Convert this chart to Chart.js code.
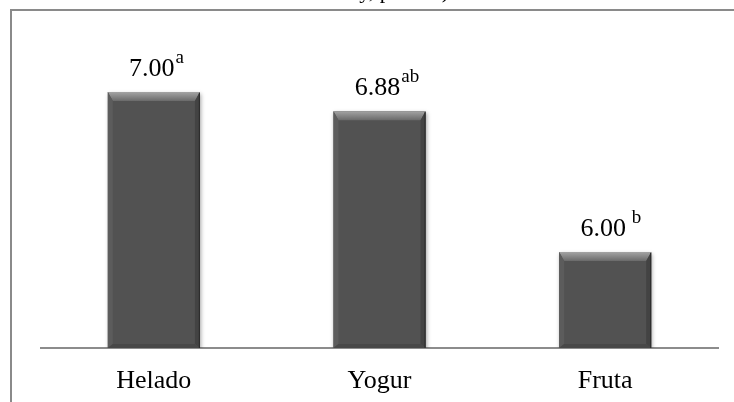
<!DOCTYPE html>
<html>
<head>
<meta charset="utf-8">
<script src="https://cdn.jsdelivr.net/npm/chart.js@4/dist/chart.umd.min.js"></script>
<style>
  html, body { margin: 0; padding: 0; background: #ffffff; }
  #wrap { width: 734px; height: 402px; position: relative; }
</style>
</head>
<body>
<div id="wrap"><canvas id="c" width="734" height="402"></canvas></div>
<script>
// Categories, mean scores and significance letters
const categories = ['Helado', 'Yogur', 'Fruta'];
const meanScores = [7.00, 6.88, 6.00];
const groupLetters = ['a', 'ab', ' b'];
const axisMin = 5.4;
const axisMax = 7.4;
const titleTail = 'y, p<0.05)';

const serif = "'Liberation Serif', 'Times New Roman', serif";

// Outer frame (left and top rules) plus the clipped end of the heading
const framePlugin = {
  id: 'frame',
  beforeDraw(chart) {
    const ctx = chart.ctx;
    ctx.save();
    ctx.fillStyle = '#ffffff';
    ctx.fillRect(0, 0, chart.width, chart.height);
    ctx.fillStyle = '#000000';
    ctx.font = '22px ' + serif;
    ctx.textAlign = 'right';
    ctx.textBaseline = 'alphabetic';
    ctx.fillText(titleTail, 449, -2);
    ctx.strokeStyle = '#8a8a8a';
    ctx.lineWidth = 2;
    ctx.beginPath();
    ctx.moveTo(11, chart.height);
    ctx.lineTo(11, 10);
    ctx.lineTo(chart.width, 10);
    ctx.stroke();
    ctx.restore();
  }
};

// Soft drop shadow under the bars
const shadowPlugin = {
  id: 'barShadow',
  beforeDatasetsDraw(chart) {
    const ctx = chart.ctx;
    ctx.save();
    ctx.shadowColor = 'rgba(0,0,0,0.35)';
    ctx.shadowBlur = 4;
    ctx.shadowOffsetX = 1;
    ctx.shadowOffsetY = 2;
  },
  afterDatasetsDraw(chart) {
    chart.ctx.restore();
  }
};

// Bevelled faces on each bar and the value labels with their letters
const bevelPlugin = {
  id: 'bevel',
  afterDatasetsDraw(chart) {
    const ctx = chart.ctx;
    const meta = chart.getDatasetMeta(0);
    meta.data.forEach((bar, i) => {
      const p = bar.getProps(['x', 'y', 'base', 'width'], true);
      const L = p.x - p.width / 2, R = p.x + p.width / 2;
      const T = p.y, B = p.base;
      const t = 9, s = 5, b = 4;
      ctx.save();
      const g = ctx.createLinearGradient(0, T, 0, T + t);
      g.addColorStop(0, '#a4a4a4');
      g.addColorStop(1, '#6a6a6a');
      ctx.fillStyle = g;
      ctx.beginPath();
      ctx.moveTo(L, T); ctx.lineTo(R, T); ctx.lineTo(R - s, T + t); ctx.lineTo(L + s, T + t);
      ctx.closePath(); ctx.fill();

      ctx.fillStyle = '#5c5c5c';
      ctx.beginPath();
      ctx.moveTo(L, T); ctx.lineTo(L + s, T + t); ctx.lineTo(L + s, B - b); ctx.lineTo(L, B);
      ctx.closePath(); ctx.fill();

      ctx.fillStyle = '#434343';
      ctx.beginPath();
      ctx.moveTo(R, T); ctx.lineTo(R - s, T + t); ctx.lineTo(R - s, B - b); ctx.lineTo(R, B);
      ctx.closePath(); ctx.fill();

      ctx.fillStyle = '#484848';
      ctx.beginPath();
      ctx.moveTo(L, B); ctx.lineTo(L + s, B - b); ctx.lineTo(R - s, B - b); ctx.lineTo(R, B);
      ctx.closePath(); ctx.fill();

      ctx.strokeStyle = '#2a2a2a';
      ctx.lineWidth = 1;
      ctx.beginPath();
      ctx.moveTo(R - 0.5, T + 1); ctx.lineTo(R - 0.5, B);
      ctx.stroke();

      // value and superscript letters
      const label = meanScores[i].toFixed(2);
      ctx.fillStyle = '#000000';
      ctx.textBaseline = 'alphabetic';
      ctx.font = '26px ' + serif;
      const w = ctx.measureText(label).width;
      const x0 = p.x - 2 - w / 2;
      const yb = T - 16;
      ctx.textAlign = 'left';
      ctx.fillText(label, x0, yb);
      ctx.font = '19px ' + serif;
      ctx.fillText(groupLetters[i], x0 + w + 1, yb - 13);
      ctx.restore();
    });
  }
};

new Chart(document.getElementById('c'), {
  type: 'bar',
  data: {
    labels: categories,
    datasets: [{
      data: meanScores,
      base: axisMin,
      backgroundColor: '#525252',
      borderWidth: 0,
      categoryPercentage: 1,
      barPercentage: 0.408
    }]
  },
  options: {
    responsive: false,
    animation: false,
    devicePixelRatio: 1,
    layout: { padding: { top: 28, left: 41, right: 16, bottom: 0 } },
    plugins: { legend: { display: false }, tooltip: { enabled: false } },
    scales: {
      y: { display: false, min: axisMin, max: axisMax },
      x: {
        grid: { display: false, drawTicks: false },
        border: { display: true, color: '#8c8c8c', width: 2 },
        ticks: { color: '#000000', font: { family: serif, size: 26 }, padding: 18 },
        afterFit(scale) { scale.height = 54; }
      }
    }
  },
  plugins: [framePlugin, shadowPlugin, bevelPlugin]
});
</script>
</body>
</html>
